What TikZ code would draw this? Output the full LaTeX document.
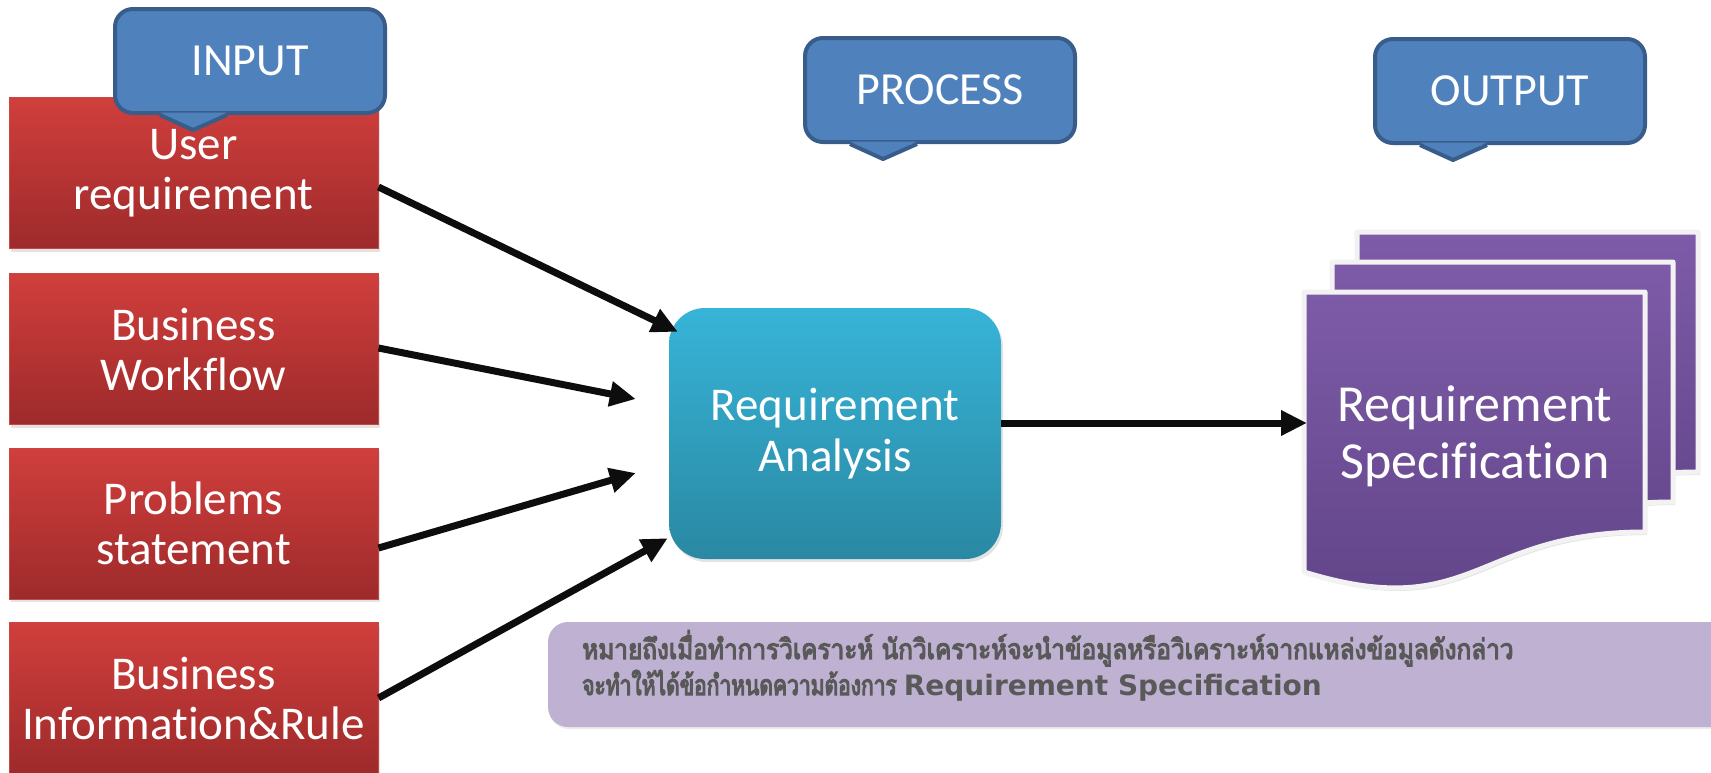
\documentclass[tikz,border=0pt]{standalone}
\usepackage{fontspec}
\setmainfont{Carlito}[Ligatures=NoCommon]
\newfontfamily\thaifont[Script=Thai, FakeStretch=0.87, FakeBold=4]{Loma}
\newfontfamily\thaifontn[Script=Thai, FakeStretch=0.75, FakeBold=4]{Loma}
\newfontfamily\latnote{DejaVu Sans}
\usetikzlibrary{arrows.meta,shadows,calc}
\definecolor{redtop}{HTML}{D03F3C}
\definecolor{redbot}{HTML}{9E2A2B}
\definecolor{redline}{HTML}{C84643}
\definecolor{blutop}{HTML}{37B4D8}
\definecolor{blubot}{HTML}{2A88A2}
\definecolor{callfill}{HTML}{4F81BD}
\definecolor{callline}{HTML}{385D8A}
\definecolor{doctop}{HTML}{7E5BA8}
\definecolor{docbot}{HTML}{5F4386}
\definecolor{docline}{HTML}{F2F2F2}
\definecolor{notefill}{HTML}{BFB1D1}
\definecolor{notegray}{HTML}{595959}
\definecolor{arrowblack}{HTML}{0D0D0D}
\tikzset{
  softshadow/.style={drop shadow={opacity=0.22,shadow xshift=2pt,shadow yshift=-3pt}},
  inbox/.style={draw=redline, line width=1pt, top color=redtop, bottom color=redbot,
    minimum width=369pt, minimum height=151pt, inner sep=0pt, text=white, align=center,
    font=\fontsize{47}{50}\selectfont, softshadow},
  procbox/.style={rounded corners=36pt, top color=blutop, bottom color=blubot,
    minimum width=332pt, minimum height=251pt, inner sep=0pt, text=white, align=center,
    font=\fontsize{47}{51}\selectfont, softshadow},
  callout/.style={draw=callline, line width=4pt, fill=callfill, rounded corners=18pt,
    minimum width=270pt, minimum height=104pt, inner sep=0pt, text=white,
    font=\fontsize{46}{50}\selectfont},
  flow/.style={draw=arrowblack, line width=7pt, -{Triangle[length=26pt,width=24pt]}},
  doctext/.style={text=white, align=center, font=\fontsize{52}{57}\selectfont, inner sep=0pt},
  notetext/.style={text=notegray, font=\fontsize{28}{32}\selectfont, inner sep=0pt},
  docpage/.pic={
    \path[draw=docline, line width=5pt, line join=round, top color=doctop, bottom color=docbot, softshadow]
      (0,0) -- (341,0) -- (341,240) .. controls (170,240) and (170,332) .. (0,280) -- cycle;
  }
}
\begin{document}
\begin{tikzpicture}[x=1pt,y=-1pt]
\useasboundingbox (0,0) rectangle (1711,772);
\clip (0,0) rectangle (1711,772);
\fill[white] (0,0) rectangle (1711,772);

% input boxes
\node[inbox] (b1) at (193.5,173) {User\\requirement};
\node[inbox] (b2) at (193.5,349) {Business\\Workflow};
\node[inbox] (b3) at (193.5,523.5) {Problems\\statement};
\node[inbox] (b4) at (193.5,698) {Business\\Information\&Rule};

% process box
\node[procbox] (ra) at (835,433.5) {Requirement\\Analysis};

% documents
\pic at (1357,232) {docpage};
\pic at (1332,262) {docpage};
\pic at (1304,292) {docpage};
\node[doctext] (spec) at (1475,436.5) {Requirement\\Specification};
\coordinate (docin) at (1307,423);

% arrows
\draw[flow] ([yshift=-14pt]b1.east) -- ([xshift=9pt,yshift=-24pt]ra.north west);
\draw[flow] ([yshift=1pt]b2.east) -- ([xshift=-33pt,yshift=34.5pt]ra.west);
\draw[flow] ([yshift=-24.5pt]b3.east) -- ([xshift=-33pt,yshift=-39.5pt]ra.west);
\draw[flow] (b4.east) -- ([xshift=-1pt,yshift=21pt]ra.south west);
\draw[flow] ([yshift=10.5pt]ra.east) -- (docin);

% callouts
\foreach \nm/\cx/\cy/\lab in {cin/250/61/INPUT, cproc/940/90/PROCESS, cout/1510/91/OUTPUT}{
  \node[callout] (\nm) at (\cx,\cy) {\lab};
  \fill[callfill] ([xshift=47pt,yshift=2.5pt]\nm.south west) -- ([xshift=80pt,yshift=-15pt]\nm.south west) -- ([xshift=114pt,yshift=2.5pt]\nm.south west) -- cycle;
  \draw[callline, line width=4pt, line join=round] ([xshift=47pt]\nm.south west) -- ([xshift=80pt,yshift=-15pt]\nm.south west) -- ([xshift=114pt]\nm.south west);
}

% note
\path[fill=notefill, rounded corners=20pt, drop shadow={opacity=0.15,shadow xshift=1pt,shadow yshift=-2pt}] (548,622) rectangle (1770,727);
\node[notetext, anchor=base west] (t1) at (582,659) {\thaifont หมายถึงเมื่อทำการวิเคราะห์ นักวิเคราะห์จะนำข้อมูลหรือวิเคราะห์จากแหล่งข้อมูลดังกล่าว};
\node[notetext, anchor=base west] (t2) at (582,695) {\thaifontn จะทำให้ได้ข้อกำหนดความต้องการ {\latnote\bfseries Requirement Specification}};
\end{tikzpicture}
\end{document}
